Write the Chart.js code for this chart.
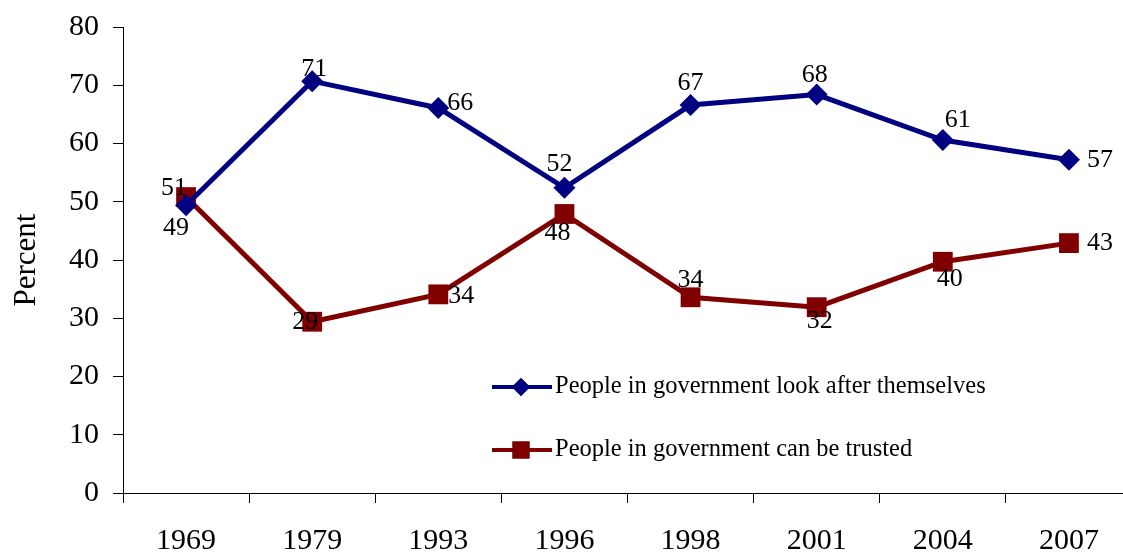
<!DOCTYPE html>
<html>
<head>
<meta charset="utf-8">
<script src="https://cdn.jsdelivr.net/npm/chart.js@4.4.0/dist/chart.umd.min.js"></script>
<style>
  body { margin: 0; overflow: hidden; background: #fff; }
  #chart { display: block; }
</style>
</head>
<body>
<canvas id="chart" width="1146" height="553"></canvas>
<script>
// chart data
let years = ['1969', '1979', '1993', '1996', '1998', '2001', '2004', '2007'];
let lookAfterThemselves = [49.4, 70.7, 66.1, 52.4, 66.6, 68.4, 60.6, 57.2];
let canBeTrusted = [50.8, 29.4, 34.1, 47.9, 33.6, 31.9, 39.7, 42.9];
let yTicks = [0, 10, 20, 30, 40, 50, 60, 70, 80];

// where each value label sits relative to its point (pixels)
let blueLabelOffsets = [[-10, 23], [2, -12], [22, -5], [-5, -24], [0, -22], [-2, -19], [15, -20], [31, 0]];
let redLabelOffsets = [[-12, -9], [-7, 0], [23, 2], [-7, 19], [0, -17], [3, 14], [7, 17], [31, 0]];

const serif = "'Liberation Serif', 'Times New Roman', serif";

function makeDataset(label, values, color, style, radius, offsets) {
    return {
        label: label,
        data: values,
        borderColor: color,
        backgroundColor: color,
        borderWidth: 5,
        pointStyle: style,
        pointRadius: radius,
        pointHoverRadius: radius,
        pointBorderWidth: 0,
        tension: 0,
        labelOffsets: offsets
    };
}

// draws the rounded values next to the points
let valueLabels = {
    id: 'valueLabels',
    afterDatasetsDraw(chart) {
        let ctx = chart.ctx;
        ctx.save();
        ctx.font = '26px ' + serif;
        ctx.fillStyle = '#000';
        ctx.textAlign = 'center';
        ctx.textBaseline = 'middle';
        chart.data.datasets.forEach(function (ds, i) {
            chart.getDatasetMeta(i).data.forEach(function (pt, j) {
                let off = ds.labelOffsets[j];
                ctx.fillText(Math.round(ds.data[j]), pt.x + off[0], pt.y + off[1]);
            });
        });
        ctx.restore();
    }
};

// legend drawn inside the plot area
let innerLegend = {
    id: 'innerLegend',
    afterDraw(chart) {
        let ctx = chart.ctx;
        let rows = [387, 450];
        ctx.save();
        chart.data.datasets.forEach(function (ds, i) {
            let y = rows[i];
            ctx.strokeStyle = ds.borderColor;
            ctx.lineWidth = 4;
            ctx.beginPath();
            ctx.moveTo(492, y);
            ctx.lineTo(552, y);
            ctx.stroke();
            Chart.helpers.drawPoint(ctx, {
                pointStyle: ds.pointStyle,
                radius: ds.pointStyle === 'rect' ? 12 : 9,
                borderWidth: 0
            }, 521, y);
            ctx.fillStyle = ds.backgroundColor;
            ctx.fill();
            ctx.fillStyle = '#000';
            ctx.font = '24.5px ' + serif;
            ctx.textAlign = 'left';
            ctx.textBaseline = 'middle';
            ctx.fillText(ds.label, 555, y);
        });
        ctx.restore();
    }
};

let ctx = document.getElementById('chart').getContext('2d');
new Chart(ctx, {
    type: 'line',
    data: {
        labels: years,
        datasets: [
            makeDataset('People in government look after themselves', lookAfterThemselves, '#000080', 'rectRot', 11, blueLabelOffsets),
            makeDataset('People in government can be trusted', canBeTrusted, '#800000', 'rect', 14, redLabelOffsets)
        ]
    },
    options: {
        responsive: false,
        animation: false,
        layout: { padding: { top: 27, right: 9, left: 0, bottom: 0 } },
        plugins: {
            legend: { display: false },
            tooltip: { enabled: false }
        },
        scales: {
            x: {
                offset: true,
                grid: {
                    offset: true,
                    drawOnChartArea: false,
                    drawTicks: true,
                    tickLength: 10,
                    color: '#000'
                },
                border: { display: true, color: '#000', width: 1 },
                ticks: {
                    color: '#000',
                    font: { family: serif, size: 30 },
                    padding: 20,
                    maxRotation: 0
                },
                afterFit: function (scale) { scale.height = 60; }
            },
            y: {
                min: 0,
                max: 80,
                afterBuildTicks: function (scale) {
                    scale.ticks = yTicks.map(function (v) { return { value: v }; });
                },
                grid: {
                    drawOnChartArea: false,
                    drawTicks: true,
                    tickLength: 10,
                    color: '#000'
                },
                border: { display: true, color: '#000', width: 1 },
                ticks: {
                    color: '#000',
                    font: { family: serif, size: 30, lineHeight: 1 },
                    padding: 14
                },
                title: {
                    display: true,
                    text: 'Percent',
                    color: '#000',
                    font: { family: serif, size: 31 },
                    padding: { top: 8, bottom: 0 }
                },
                afterFit: function (scale) {
                    scale.width = 123;
                    scale.paddingTop = 0;
                    scale.paddingBottom = 0;
                }
            }
        }
    },
    plugins: [valueLabels, innerLegend]
});
</script>
</body>
</html>
